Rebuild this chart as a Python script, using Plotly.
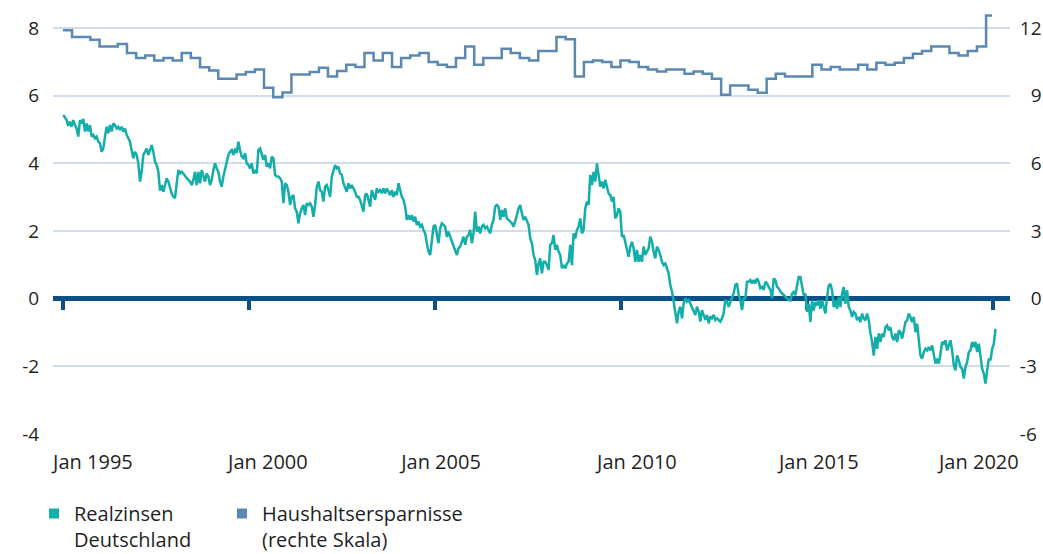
import pandas as pd
import plotly.graph_objects as go

# ---------------- data ----------------
# Realzinsen Deutschland (left scale, %), every 16 days,
# starting early January 1995, in four consecutive stretches
realzins_1995_2001 = [
    5.43, 5.33, 5.28, 5.11, 5.23, 5.08, 5.28, 5.13, 5.03, 4.79, 5.28, 5.18, 5.31, 4.94, 5.18,
    4.94, 5.13, 4.79, 4.84, 4.74, 4.79, 4.64, 4.59, 4.34, 4.44, 4.79, 5.08, 4.89, 5.13, 4.94,
    5.18, 5.13, 5.03, 5.08, 4.99, 5.08, 4.94, 5.03, 4.84, 4.74, 4.64, 4.39, 4.15, 4.34, 4.25,
    4.00, 3.46, 3.75, 4.25, 4.34, 4.44, 4.25, 4.39, 4.54, 4.34, 4.05, 3.95, 3.75, 3.19, 3.36,
    3.16, 3.36, 3.56, 3.46, 3.26, 3.11, 3.02, 2.97, 3.41, 3.80, 3.70, 3.75, 3.70, 3.61, 3.56,
    3.51, 3.46, 3.36, 3.51, 3.75, 3.36, 3.75, 3.41, 3.80, 3.66, 3.46, 3.70, 3.61, 3.36, 3.51,
    3.80, 4.00, 3.85, 3.75, 3.46, 3.31, 3.61, 3.80, 4.00, 4.25, 4.34, 4.39, 4.25, 4.44, 4.30,
    4.64, 4.39, 4.20, 4.15, 4.30, 4.00, 3.95, 3.85, 4.00, 3.70, 3.80, 3.70, 4.39, 4.44, 4.25,
    4.10, 4.25, 3.90, 4.00, 3.85, 4.20, 4.15, 3.66, 3.61, 3.61, 3.56, 3.46, 2.82, 3.41, 3.36,
    3.16, 2.77, 3.02, 3.06, 2.67, 2.57, 2.23, 2.52, 2.67, 2.77, 2.47,
]
realzins_2001_2008 = [
    2.82, 2.77, 2.82, 2.72, 2.42, 2.77, 3.31, 3.46, 3.21, 3.16, 2.87, 3.31, 3.36, 3.21, 3.01,
    3.61, 3.75, 3.95, 3.85, 3.90, 3.70, 3.66, 3.41, 3.26, 3.16, 3.41, 3.26, 3.36, 3.26, 3.16,
    3.01, 3.01, 2.92, 2.72, 2.57, 3.06, 3.11, 2.92, 2.72, 3.21, 3.06, 2.92, 3.26, 3.16, 3.21,
    3.11, 3.26, 3.11, 3.26, 3.16, 3.06, 3.21, 3.01, 3.16, 3.06, 3.41, 3.16, 3.01, 2.92, 2.72,
    2.33, 2.47, 2.33, 2.47, 2.28, 2.42, 2.18, 2.28, 2.13, 2.18, 2.03, 1.93, 1.64, 1.39, 1.29,
    1.83, 2.13, 2.18, 1.93, 1.64, 2.08, 2.23, 2.18, 2.13, 1.83, 1.98, 1.83, 1.68, 1.59, 1.39,
    1.29, 1.49, 1.54, 1.68, 1.83, 1.59, 1.83, 1.88, 2.03, 1.64, 1.93, 2.57, 1.98, 2.13, 1.93,
    2.13, 2.18, 2.08, 2.13, 2.03, 1.93, 2.18, 2.33, 2.72, 2.77, 2.72, 2.33, 2.62, 2.42, 2.67,
    2.37, 2.33, 2.28, 2.23, 2.13, 2.28, 2.47, 2.67, 2.77, 2.52, 2.33, 2.42, 2.28, 2.18, 1.78,
    1.64, 1.29, 1.14, 0.70, 1.04, 1.19, 0.75, 1.09,
]
realzins_2008_2014 = [
    1.09, 0.99, 0.85, 1.59, 1.64, 1.88, 1.44, 1.59, 1.39, 1.29, 0.90, 0.99, 0.90, 1.04, 1.09,
    1.59, 0.99, 1.93, 1.78, 2.03, 2.13, 2.37, 1.93, 2.03, 2.67, 2.87, 2.77, 3.66, 3.36, 3.75,
    3.46, 4.00, 3.70, 3.31, 3.46, 3.26, 3.51, 3.26, 3.11, 3.06, 2.87, 3.01, 2.37, 2.47, 2.67,
    2.57, 1.83, 1.88, 1.68, 1.39, 1.24, 1.54, 1.68, 1.49, 1.09, 1.44, 1.09, 1.29, 1.09, 1.54,
    1.29, 1.39, 1.49, 1.83, 1.68, 1.39, 1.19, 1.54, 1.44, 1.29, 1.09, 0.99, 1.04, 0.90, 0.75,
    0.40, 0.21, -0.09, -0.38, -0.73, -0.38, -0.24, -0.58, -0.14, 0.01, -0.09, -0.04, -0.14, -0.24, -0.38,
    -0.48, -0.24, -0.38, -0.68, -0.34, -0.48, -0.63, -0.48, -0.73, -0.53, -0.58, -0.48, -0.63, -0.58, -0.63,
    -0.68, -0.58, -0.43, -0.04, -0.09, -0.24, -0.09, 0.06, 0.16, 0.40, 0.45, 0.11, -0.04, -0.34, 0.01,
    0.01, 0.50, 0.50, 0.55, 0.45, 0.55, 0.45, 0.60, 0.50, 0.31, 0.35, 0.26, 0.50, 0.45, 0.35,
    0.26, 0.01, 0.60, 0.55, 0.35, 0.31, 0.21, 0.16, 0.11, 0.06, 0.01, -0.04,
]
realzins_2014_2020 = [
    -0.05, 0.15, 0.20, 0.10, 0.39, 0.64, 0.64, 0.39, 0.10, 0.15, -0.39, -0.15, -0.69, -0.05, -0.35,
    -0.10, -0.20, -0.05, -0.30, -0.05, -0.25, -0.44, 0.05, 0.39, 0.44, 0.25, -0.25, -0.05, -0.30, 0.05,
    -0.25, 0.15, 0.34, -0.15, 0.25, -0.25, -0.35, -0.54, -0.39, -0.44, -0.64, -0.54, -0.69, -0.44, -0.59,
    -0.64, -0.44, -0.64, -1.03, -1.28, -1.68, -1.13, -1.48, -1.03, -1.28, -1.03, -1.13, -0.84, -0.79, -0.94,
    -0.84, -1.13, -1.23, -1.03, -1.28, -0.94, -0.99, -1.18, -0.94, -0.69, -0.64, -0.44, -0.54, -0.69, -0.54,
    -0.99, -0.74, -1.13, -1.68, -1.77, -1.58, -1.48, -1.53, -1.43, -1.53, -1.38, -1.72, -1.92, -1.77, -1.92,
    -1.63, -1.28, -1.33, -1.23, -1.53, -1.38, -1.23, -1.53, -1.97, -2.12, -1.68, -1.82, -2.02, -2.07, -2.36,
    -2.02, -1.87, -1.58, -1.53, -1.28, -1.43, -1.28, -1.58, -1.33, -1.72, -2.07, -2.22, -2.51, -2.12, -1.77,
    -1.82, -1.48, -1.33, -0.89,
]
realzins_start = "1995-01-04"
realzins_step = "393h"   # about 16.4 days between readings

# Haushaltsersparnisse (Sparquote), quarterly from 1995 Q1 to 2020 Q2 (right scale, %)
sparquote = [
    11.90, 11.60, 11.60, 11.48, 11.18, 11.18, 11.29, 10.89, 10.67, 10.78,
    10.56, 10.67, 10.56, 10.89, 10.67, 10.26, 10.12, 9.75, 9.75, 9.94,
    10.05, 10.16, 9.35, 8.93, 9.14, 9.94, 9.94, 10.05, 10.24, 9.85,
    10.09, 10.37, 10.27, 10.89, 10.56, 10.89, 10.27, 10.67, 10.78, 10.89,
    10.49, 10.37, 10.27, 10.67, 11.18, 10.37, 10.67, 10.67, 11.08, 10.89,
    10.67, 10.56, 10.98, 10.98, 11.60, 11.50, 9.85, 10.49, 10.56, 10.49,
    10.27, 10.56, 10.49, 10.27, 10.16, 10.07, 10.16, 10.16, 9.97, 10.07,
    9.97, 9.75, 9.04, 9.45, 9.45, 9.26, 9.13, 9.75, 9.97, 9.85,
    9.85, 9.85, 10.37, 10.16, 10.27, 10.16, 10.16, 10.37, 10.16, 10.46,
    10.37, 10.46, 10.67, 10.86, 10.98, 11.18, 11.18, 10.89, 10.78, 10.98,
    11.18, 12.55,
]
sparquote_start = "1995-01-01"
sparquote_end = "2020-05-31"   # end of the last plotted step

tick_years = ["1995-01-01", "2000-01-01", "2005-01-01", "2010-01-01", "2015-01-01", "2020-01-01"]
tick_labels = ["Jan 1995", "Jan 2000", "Jan 2005", "Jan 2010", "Jan 2015", "Jan 2020"]
label_pos = ["1995-10-22", "2000-07-05", "2005-03-01", "2010-06-07", "2015-04-28", "2019-08-16"]

left_ticks = [-4, -2, 0, 2, 4, 6, 8]
left_labels = ["-4", "-2", "0", "2", "4", "6", "8"]
right_ticks = [-6, -3, 0, 3, 6, 9, 12]
right_labels = ["-6", "-3", "\u20070", "\u20073", "\u20076", "\u20079", "12"]

name_real = "Realzinsen<br>Deutschland"
name_spar = "Haushaltsersparnisse<br>(rechte Skala)"

# ---------------- style ----------------
TEAL = "#13aea9"
STEEL = "#5b88b2"
NAVY = "#0b5088"
GRID = "#d3dce9"
TXT = "#1f1f1f"
FONT = "Open Sans"

realzins = realzins_1995_2001 + realzins_2001_2008 + realzins_2008_2014 + realzins_2014_2020
real_dates = pd.date_range(realzins_start, periods=len(realzins), freq=realzins_step)
spar_dates = list(pd.date_range(sparquote_start, periods=len(sparquote), freq="QS")) + [pd.Timestamp(sparquote_end)]
spar_vals = sparquote + [sparquote[-1]]

fig = go.Figure()
fig.add_trace(go.Scatter(x=real_dates, y=realzins, mode="lines",
                         line=dict(color=TEAL, width=2.5), showlegend=False,
                         hoverinfo="skip", xaxis="x", yaxis="y"))
fig.add_trace(go.Scatter(x=spar_dates, y=spar_vals, mode="lines", line_shape="hv",
                         line=dict(color=STEEL, width=2.5), showlegend=False,
                         hoverinfo="skip", xaxis="x3", yaxis="y2"))
# legend entries (square keys), each in its own legend box
fig.add_trace(go.Scatter(x=[None], y=[None], mode="markers", name=name_real, legend="legend",
                         marker=dict(symbol="square", size=10, color=TEAL)))
fig.add_trace(go.Scatter(x=[None], y=[None], mode="markers", name=name_spar, legend="legend2",
                         marker=dict(symbol="square", size=10, color=STEEL)))
# invisible helper so the tick axis at zero is drawn
fig.add_trace(go.Scatter(x=[None], y=[None], mode="lines", showlegend=False,
                         hoverinfo="skip", xaxis="x2", yaxis="y"))

main_range = ["1994-09-25", "2020-06-17"]
spar_range = ["1994-09-23", "2020-11-26"]
ymin, ymax = -4, 8.532
zero_pos = (0 - ymin) / (ymax - ymin)

legend_common = dict(orientation="h", xref="container", yref="container",
                     y=1 - 494 / 554, xanchor="left", yanchor="top", valign="top",
                     font=dict(size=20, color=TXT, family=FONT), bgcolor="rgba(0,0,0,0)")

fig.update_layout(
    width=1043, height=554,
    margin=dict(l=53, r=33, t=10, b=120),
    paper_bgcolor="white", plot_bgcolor="white",
    font=dict(family=FONT, size=20, color=TXT),
    xaxis=dict(type="date", range=main_range, tickvals=label_pos, ticktext=tick_labels,
               showgrid=False, zeroline=False, showline=False, automargin=False,
               ticks="outside", ticklen=10, tickcolor="rgba(0,0,0,0)",
               tickfont=dict(size=20, color=TXT, family=FONT), anchor="y"),
    xaxis2=dict(type="date", range=main_range, overlaying="x", anchor="free", position=zero_pos,
                tickvals=tick_years, showticklabels=False, ticks="outside", ticklen=10,
                tickwidth=4, tickcolor=NAVY, showgrid=False, zeroline=False, showline=False,
                automargin=False, layer="below traces"),
    xaxis3=dict(type="date", range=spar_range, overlaying="x", visible=False, anchor="y2",
                automargin=False),
    yaxis=dict(range=[ymin, ymax], tickvals=left_ticks, ticktext=left_labels,
               showgrid=True, gridcolor=GRID, gridwidth=1.5,
               zeroline=True, zerolinecolor=NAVY, zerolinewidth=5, showline=False, automargin=False,
               ticks="outside", ticklen=9, tickcolor="rgba(0,0,0,0)",
               tickfont=dict(size=19, color=TXT, family=FONT)),
    yaxis2=dict(range=[1.5 * ymin, 1.5 * ymax], overlaying="y", side="right", anchor="x3",
                tickvals=right_ticks, ticktext=right_labels, showgrid=False, zeroline=False,
                showline=False, automargin=False, ticks="outside", ticklen=5,
                tickcolor="rgba(0,0,0,0)", tickfont=dict(size=19, color=TXT, family=FONT)),
    legend=dict(x=34 / 1043, **legend_common),
    legend2=dict(x=222 / 1043, **legend_common),
    hovermode=False,
)

fig.write_html("out.html", config={"displayModeBar": False},
               post_script="document.body.style.margin='0';")
